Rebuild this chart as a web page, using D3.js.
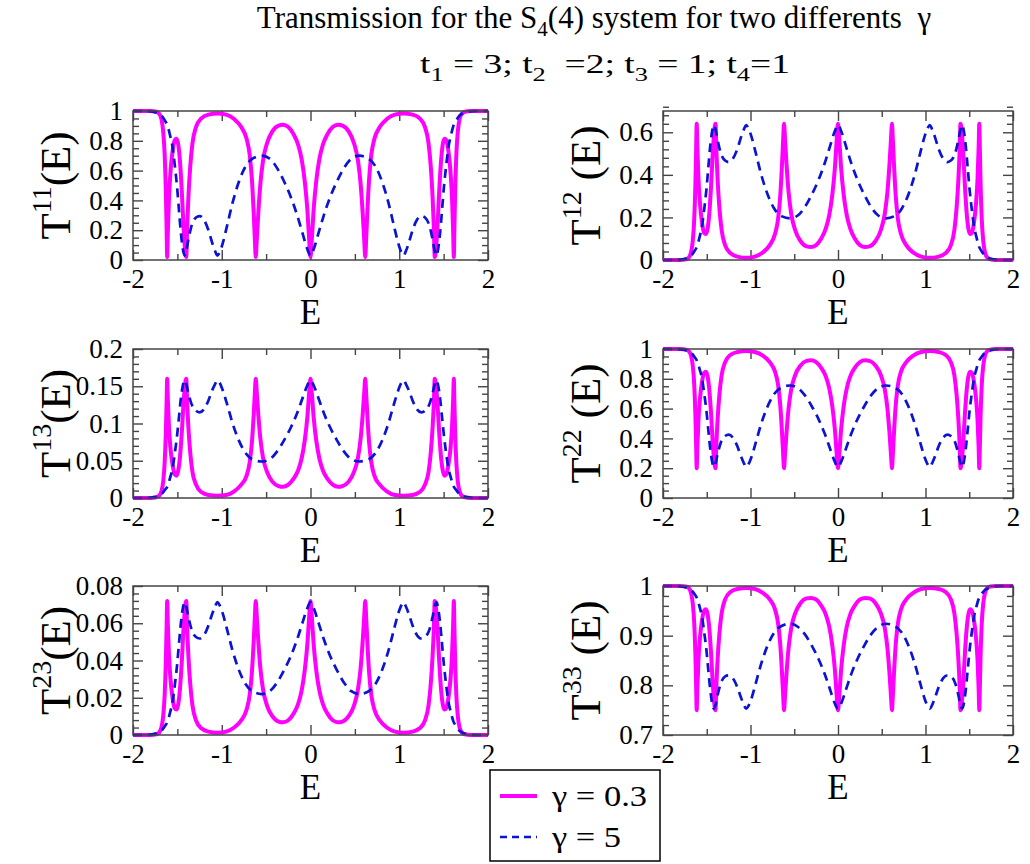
<!DOCTYPE html>
<html><head><meta charset="utf-8">
<script src="https://cdn.jsdelivr.net/npm/d3@7"></script>
<style>
body{margin:0;background:#fff}
svg{display:block}
text{font-family:"Liberation Serif","Times New Roman","DejaVu Serif",serif;white-space:pre}
</style>
</head><body><svg id="c" width="1030" height="864"></svg>
<script>
// ---------------- DATA ----------------
const X_DOMAIN = [-2, 2];
const X_TICKS = [-2, -1, 0, 1, 2];

const E_MAG = [-2,-1.8,-1.74,-1.705,-1.68,-1.66,-1.643,-1.63,-1.621,-1.615,-1.607,-1.595,-1.578,-1.555,-1.53,-1.51,-1.49,-1.47,-1.45,-1.43,-1.4,-1.39,-1.375,-1.355,-1.33,-1.29,-1.23,-1.15,-1.05,-0.95,-0.86,-0.78,-0.72,-0.685,-0.66,-0.64,-0.627,-0.617,-0.605,-0.588,-0.565,-0.535,-0.49,-0.43,-0.36,-0.31,-0.25,-0.19,-0.14,-0.1,-0.065,-0.035,-0.015,0,
0.015,0.035,0.065,0.1,0.14,0.19,0.25,0.31,0.36,0.43,0.49,0.535,0.565,0.588,0.605,0.617,0.627,0.64,0.66,0.685,0.72,0.78,0.86,0.95,1.05,1.15,1.23,1.29,1.33,1.355,1.375,1.39,1.4,1.43,1.45,1.47,1.49,1.51,1.53,1.555,1.578,1.595,1.607,1.615,1.621,1.63,1.643,1.66,1.68,1.705,1.74,1.8,2];

const E_BLUE = [-2,-1.85,-1.78,-1.72,-1.68,-1.64,-1.61,-1.58,-1.555,-1.53,-1.505,-1.48,-1.46,-1.44,-1.42,-1.4,-1.375,-1.34,-1.29,-1.25,-1.2,-1.15,-1.11,-1.075,-1.05,-1.025,-0.99,-0.94,-0.88,-0.81,-0.73,-0.64,-0.55,-0.46,-0.38,-0.3,-0.22,-0.15,-0.09,-0.04,0,
0.04,0.09,0.15,0.22,0.3,0.38,0.46,0.55,0.64,0.73,0.81,0.88,0.94,0.99,1.025,1.05,1.075,1.11,1.15,1.2,1.25,1.29,1.34,1.375,1.4,1.42,1.44,1.46,1.48,1.505,1.53,1.555,1.58,1.61,1.64,1.68,1.72,1.78,1.85,2];

// gamma = 0.3 (magenta)
const T11_MAG = [1,1,0.995,0.982,0.946,0.863,0.706,0.461,0.196,0.02,0.196,0.412,0.588,0.726,0.804,0.814,0.775,0.657,0.461,0.216,0.02,0.216,0.432,0.628,0.784,0.892,0.951,0.976,0.984,0.976,0.946,0.892,0.814,0.706,0.539,0.314,0.138,0.02,0.138,0.314,0.51,0.667,0.784,0.863,0.902,0.907,0.892,0.843,0.775,0.677,0.53,0.334,0.138,0.02,
0.138,0.334,0.53,0.677,0.775,0.843,0.892,0.907,0.902,0.863,0.784,0.667,0.51,0.314,0.138,0.02,0.138,0.314,0.539,0.706,0.814,0.892,0.946,0.976,0.984,0.976,0.951,0.892,0.784,0.628,0.432,0.216,0.02,0.216,0.461,0.657,0.775,0.814,0.804,0.726,0.588,0.412,0.196,0.02,0.196,0.461,0.706,0.863,0.946,0.982,0.995,1,1];
const T12_MAG = [0,0,0.003,0.012,0.035,0.09,0.192,0.352,0.525,0.64,0.525,0.384,0.269,0.179,0.128,0.122,0.147,0.224,0.352,0.512,0.64,0.512,0.371,0.243,0.141,0.07,0.032,0.016,0.01,0.016,0.035,0.07,0.122,0.192,0.301,0.448,0.563,0.64,0.563,0.448,0.32,0.218,0.141,0.09,0.064,0.061,0.07,0.102,0.147,0.211,0.307,0.435,0.563,0.64,
0.563,0.435,0.307,0.211,0.147,0.102,0.07,0.061,0.064,0.09,0.141,0.218,0.32,0.448,0.563,0.64,0.563,0.448,0.301,0.192,0.122,0.07,0.035,0.016,0.01,0.016,0.032,0.07,0.141,0.243,0.371,0.512,0.64,0.512,0.352,0.224,0.147,0.122,0.128,0.179,0.269,0.384,0.525,0.64,0.525,0.352,0.192,0.09,0.035,0.012,0.003,0,0];
const T13_MAG = [0,0,0.001,0.003,0.009,0.022,0.048,0.088,0.131,0.16,0.131,0.096,0.067,0.045,0.032,0.03,0.037,0.056,0.088,0.128,0.16,0.128,0.093,0.061,0.035,0.018,0.008,0.004,0.003,0.004,0.009,0.018,0.03,0.048,0.075,0.112,0.141,0.16,0.141,0.112,0.08,0.054,0.035,0.022,0.016,0.015,0.018,0.026,0.037,0.053,0.077,0.109,0.141,0.16,
0.141,0.109,0.077,0.053,0.037,0.026,0.018,0.015,0.016,0.022,0.035,0.054,0.08,0.112,0.141,0.16,0.141,0.112,0.075,0.048,0.03,0.018,0.009,0.004,0.003,0.004,0.008,0.018,0.035,0.061,0.093,0.128,0.16,0.128,0.088,0.056,0.037,0.03,0.032,0.045,0.067,0.096,0.131,0.16,0.131,0.088,0.048,0.022,0.009,0.003,0.001,0,0];
const T22_MAG = [1,1,0.996,0.986,0.956,0.888,0.76,0.56,0.344,0.2,0.344,0.52,0.664,0.776,0.84,0.848,0.816,0.72,0.56,0.36,0.2,0.36,0.536,0.696,0.824,0.912,0.96,0.98,0.987,0.98,0.956,0.912,0.848,0.76,0.624,0.44,0.296,0.2,0.296,0.44,0.6,0.728,0.824,0.888,0.92,0.924,0.912,0.872,0.816,0.736,0.616,0.456,0.296,0.2,
0.296,0.456,0.616,0.736,0.816,0.872,0.912,0.924,0.92,0.888,0.824,0.728,0.6,0.44,0.296,0.2,0.296,0.44,0.624,0.76,0.848,0.912,0.956,0.98,0.987,0.98,0.96,0.912,0.824,0.696,0.536,0.36,0.2,0.36,0.56,0.72,0.816,0.848,0.84,0.776,0.664,0.52,0.344,0.2,0.344,0.56,0.76,0.888,0.956,0.986,0.996,1,1];
const T23_MAG = [0,0,0.0004,0.0013,0.004,0.0101,0.0216,0.0396,0.059,0.072,0.059,0.0432,0.0302,0.0202,0.0144,0.0137,0.0166,0.0252,0.0396,0.0576,0.072,0.0576,0.0418,0.0274,0.0158,0.0079,0.0036,0.0018,0.0012,0.0018,0.004,0.0079,0.0137,0.0216,0.0338,0.0504,0.0634,0.072,0.0634,0.0504,0.036,0.0245,0.0158,0.0101,0.0072,0.0068,0.0079,0.0115,0.0166,0.0238,0.0346,0.049,0.0634,0.072,
0.0634,0.049,0.0346,0.0238,0.0166,0.0115,0.0079,0.0068,0.0072,0.0101,0.0158,0.0245,0.036,0.0504,0.0634,0.072,0.0634,0.0504,0.0338,0.0216,0.0137,0.0079,0.004,0.0018,0.0012,0.0018,0.0036,0.0079,0.0158,0.0274,0.0418,0.0576,0.072,0.0576,0.0396,0.0252,0.0166,0.0137,0.0144,0.0202,0.0302,0.0432,0.059,0.072,0.059,0.0396,0.0216,0.0101,0.004,0.0013,0.0004,0,0];
const T33_MAG = [1,1,0.999,0.996,0.986,0.965,0.925,0.863,0.795,0.75,0.795,0.85,0.895,0.93,0.95,0.953,0.943,0.913,0.863,0.8,0.75,0.8,0.855,0.905,0.945,0.973,0.988,0.994,0.996,0.994,0.986,0.973,0.953,0.925,0.883,0.825,0.78,0.75,0.78,0.825,0.875,0.915,0.945,0.965,0.975,0.976,0.973,0.96,0.943,0.918,0.88,0.83,0.78,0.75,
0.78,0.83,0.88,0.918,0.943,0.96,0.973,0.976,0.975,0.965,0.945,0.915,0.875,0.825,0.78,0.75,0.78,0.825,0.883,0.925,0.953,0.973,0.986,0.994,0.996,0.994,0.988,0.973,0.945,0.905,0.855,0.8,0.75,0.8,0.863,0.913,0.943,0.953,0.95,0.93,0.895,0.85,0.795,0.75,0.795,0.863,0.925,0.965,0.986,0.996,0.999,1,1];

// gamma = 5 (blue, dashed)
const T11_BLUE = [1,1,0.996,0.985,0.97,0.935,0.9,0.83,0.76,0.64,0.5,0.32,0.18,0.08,0.03,0.06,0.14,0.23,0.285,0.295,0.27,0.2,0.12,0.06,0.03,0.05,0.11,0.23,0.38,0.52,0.63,0.685,0.7,0.68,0.62,0.53,0.42,0.3,0.18,0.08,0.03,
0.08,0.18,0.3,0.42,0.53,0.62,0.68,0.7,0.685,0.63,0.52,0.38,0.23,0.11,0.05,0.03,0.06,0.12,0.2,0.27,0.295,0.285,0.23,0.14,0.06,0.03,0.08,0.18,0.32,0.5,0.64,0.76,0.83,0.9,0.935,0.97,0.985,0.996,1,1];
const T12_BLUE = [0,0,0.003,0.01,0.02,0.042,0.065,0.111,0.157,0.235,0.326,0.444,0.536,0.601,0.634,0.614,0.562,0.503,0.467,0.46,0.477,0.522,0.575,0.614,0.634,0.62,0.581,0.503,0.405,0.314,0.242,0.205,0.196,0.209,0.248,0.307,0.379,0.457,0.536,0.601,0.634,
0.601,0.536,0.457,0.379,0.307,0.248,0.209,0.196,0.205,0.242,0.314,0.405,0.503,0.581,0.62,0.634,0.614,0.575,0.522,0.477,0.46,0.467,0.503,0.562,0.614,0.634,0.601,0.536,0.444,0.326,0.235,0.157,0.111,0.065,0.042,0.02,0.01,0.003,0,0];
const T13_BLUE = [0,0,0.001,0.002,0.005,0.011,0.016,0.028,0.039,0.059,0.082,0.111,0.134,0.15,0.158,0.153,0.14,0.126,0.117,0.115,0.119,0.131,0.144,0.153,0.158,0.155,0.145,0.126,0.101,0.078,0.06,0.051,0.049,0.052,0.062,0.077,0.095,0.114,0.134,0.15,0.158,
0.15,0.134,0.114,0.095,0.077,0.062,0.052,0.049,0.051,0.06,0.078,0.101,0.126,0.145,0.155,0.158,0.153,0.144,0.131,0.119,0.115,0.117,0.126,0.14,0.153,0.158,0.15,0.134,0.111,0.082,0.059,0.039,0.028,0.016,0.011,0.005,0.002,0.001,0,0];
const T22_BLUE = [1,1,0.997,0.988,0.975,0.947,0.918,0.862,0.804,0.706,0.592,0.445,0.33,0.249,0.208,0.233,0.298,0.371,0.416,0.425,0.404,0.347,0.282,0.233,0.208,0.225,0.274,0.371,0.494,0.608,0.698,0.743,0.755,0.738,0.69,0.616,0.526,0.429,0.33,0.249,0.208,
0.249,0.33,0.429,0.526,0.616,0.69,0.738,0.755,0.743,0.698,0.608,0.494,0.371,0.274,0.225,0.208,0.233,0.282,0.347,0.404,0.425,0.416,0.371,0.298,0.233,0.208,0.249,0.33,0.445,0.592,0.706,0.804,0.862,0.918,0.947,0.975,0.988,0.997,1,1];
const T23_BLUE = [0,0,0.0003,0.0011,0.0022,0.0048,0.0073,0.0125,0.0176,0.0264,0.0367,0.05,0.0603,0.0676,0.0713,0.069,0.0632,0.0566,0.0526,0.0518,0.0536,0.0588,0.0647,0.069,0.0713,0.0698,0.0654,0.0566,0.0456,0.0353,0.0272,0.0231,0.022,0.0235,0.0279,0.0346,0.0426,0.0514,0.0603,0.0676,0.0713,
0.0676,0.0603,0.0514,0.0426,0.0346,0.0279,0.0235,0.022,0.0231,0.0272,0.0353,0.0456,0.0566,0.0654,0.0698,0.0713,0.069,0.0647,0.0588,0.0536,0.0518,0.0526,0.0566,0.0632,0.069,0.0713,0.0676,0.0603,0.05,0.0367,0.0264,0.0176,0.0125,0.0073,0.0048,0.0022,0.0011,0.0003,0,0];
const T33_BLUE = [1,1,0.999,0.996,0.992,0.984,0.975,0.957,0.939,0.908,0.873,0.827,0.791,0.765,0.753,0.76,0.781,0.804,0.818,0.82,0.814,0.796,0.776,0.76,0.753,0.758,0.773,0.804,0.842,0.878,0.906,0.92,0.924,0.918,0.903,0.88,0.852,0.822,0.791,0.765,0.753,
0.765,0.791,0.822,0.852,0.88,0.903,0.918,0.924,0.92,0.906,0.878,0.842,0.804,0.773,0.758,0.753,0.76,0.776,0.796,0.814,0.82,0.818,0.804,0.781,0.76,0.753,0.765,0.791,0.827,0.873,0.908,0.939,0.957,0.975,0.984,0.992,0.996,0.999,1,1];

const Y_TICKS_11 = [0, 0.2, 0.4, 0.6, 0.8, 1];
const Y_TICKS_12 = [0, 0.2, 0.4, 0.6];
const Y_TICKS_13 = [0, 0.05, 0.1, 0.15, 0.2];
const Y_TICKS_22 = [0, 0.2, 0.4, 0.6, 0.8, 1];
const Y_TICKS_23 = [0, 0.02, 0.04, 0.06, 0.08];
const Y_TICKS_33 = [0.7, 0.8, 0.9, 1];

const LEGEND_LABELS = ["\u03b3 = 0.3", "\u03b3 = 5"];

// ---------------- LAYOUT ----------------
const FONT = '"Liberation Serif","Times New Roman","DejaVu Serif",serif';
const MAG = "#ff00ff", BLUE = "#0a14d2", AXC = "#444";
const COLS = [{x0:133, x1:488, lab:70}, {x0:663, x1:1013, lab:600}];
const ROWS = [{y0:111, y1:260}, {y0:349, y1:498}, {y0:586, y1:735}];

const panels = [
  {col:0,row:0,sup:"11",sp:"",  mag:T11_MAG,blue:T11_BLUE,dom:[0,1],   ticks:Y_TICKS_11,minor:0.05},
  {col:1,row:0,sup:"12",sp:" ", mag:T12_MAG,blue:T12_BLUE,dom:[0,0.7], ticks:Y_TICKS_12,minor:0.04},
  {col:0,row:1,sup:"13",sp:"",  mag:T13_MAG,blue:T13_BLUE,dom:[0,0.2], ticks:Y_TICKS_13,minor:0.01},
  {col:1,row:1,sup:"22",sp:" ", mag:T22_MAG,blue:T22_BLUE,dom:[0,1],   ticks:Y_TICKS_22,minor:0.05},
  {col:0,row:2,sup:"23",sp:"",  mag:T23_MAG,blue:T23_BLUE,dom:[0,0.08],ticks:Y_TICKS_23,minor:0.004},
  {col:1,row:2,sup:"33",sp:" ", mag:T33_MAG,blue:T33_BLUE,dom:[0.7,1], ticks:Y_TICKS_33,minor:0.02}
];

const svg = d3.select("#c");

function styleAxis(g, size){
  g.attr("font-family", null).attr("font-size", null);
  g.select(".domain").remove();
  g.selectAll(".tick line").attr("stroke", AXC).attr("stroke-width", 1.4);
  g.selectAll(".tick text").attr("fill", "#000").style("font-family", FONT).style("font-size", size + "px");
}

panels.forEach(p => {
  const c = COLS[p.col], r = ROWS[p.row];
  const x = d3.scaleLinear().domain(X_DOMAIN).range([c.x0, c.x1]);
  const y = d3.scaleLinear().domain(p.dom).range([r.y1, r.y0]);
  const g = svg.append("g");

  const xMinor = d3.range(X_DOMAIN[0], X_DOMAIN[1] + 1e-9, 0.5).filter(v => Math.abs(v - Math.round(v)) > 1e-6);
  const nMinor = Math.round((p.dom[1] - p.dom[0]) / p.minor);
  const yMinor = d3.range(0, nMinor + 1).map(i => p.dom[0] + i * p.minor)
      .filter(v => !p.ticks.some(t => Math.abs(t - v) < 1e-9));

  g.append("g").attr("transform", `translate(0,${r.y1})`)
    .call(d3.axisBottom(x).tickValues(X_TICKS).tickSize(-10).tickPadding(9).tickFormat(d => String(d)))
    .call(a => styleAxis(a, 27));
  g.append("g").attr("transform", `translate(0,${r.y1})`)
    .call(d3.axisBottom(x).tickValues(xMinor).tickSize(-6).tickFormat(""))
    .call(a => styleAxis(a, 10));
  g.append("g").attr("transform", `translate(0,${r.y0})`)
    .call(d3.axisTop(x).tickValues(X_TICKS).tickSize(-10).tickFormat(""))
    .call(a => styleAxis(a, 10));
  g.append("g").attr("transform", `translate(0,${r.y0})`)
    .call(d3.axisTop(x).tickValues(xMinor).tickSize(-6).tickFormat(""))
    .call(a => styleAxis(a, 10));

  g.append("g").attr("transform", `translate(${c.x0},0)`)
    .call(d3.axisLeft(y).tickValues(p.ticks).tickSize(-10).tickPadding(10).tickFormat(d => String(d)))
    .call(a => styleAxis(a, 27));
  g.append("g").attr("transform", `translate(${c.x0},0)`)
    .call(d3.axisLeft(y).tickValues(yMinor).tickSize(-6).tickFormat(""))
    .call(a => styleAxis(a, 10));
  g.append("g").attr("transform", `translate(${c.x1},0)`)
    .call(d3.axisRight(y).tickValues(p.ticks).tickSize(-10).tickFormat(""))
    .call(a => styleAxis(a, 10));
  g.append("g").attr("transform", `translate(${c.x1},0)`)
    .call(d3.axisRight(y).tickValues(yMinor).tickSize(-6).tickFormat(""))
    .call(a => styleAxis(a, 10));

  const line = (ys) => d3.line().curve(d3.curveMonotoneX).x(d => x(d)).y((d, i) => y(ys[i]));
  g.append("path").datum(E_MAG).attr("d", line(p.mag))
    .attr("fill", "none").attr("stroke", MAG).attr("stroke-width", 4).attr("stroke-linejoin", "round");
  g.append("path").datum(E_BLUE).attr("d", line(p.blue))
    .attr("fill", "none").attr("stroke", BLUE).attr("stroke-width", 2.7).attr("stroke-dasharray", "9,6");

  g.append("rect").attr("x", c.x0).attr("y", r.y0).attr("width", c.x1 - c.x0).attr("height", r.y1 - r.y0)
    .attr("fill", "none").attr("stroke", AXC).attr("stroke-width", 1.5);

  g.append("text").attr("x", (c.x0 + c.x1) / 2).attr("y", r.y1 + 64).attr("text-anchor", "middle")
    .style("font-family", FONT).style("font-size", "35px").text("E");

  const yl = g.append("text").attr("transform", `translate(${c.lab},${(r.y0 + r.y1) / 2}) rotate(-90)`)
    .attr("text-anchor", "middle").style("font-family", FONT).style("font-size", "43px");
  yl.append("tspan").text("T");
  yl.append("tspan").style("font-size", "28px").attr("dy", -19).text(p.sup);
  yl.append("tspan").attr("dy", 19).text(p.sp + "(E)");
});

// title
const title = svg.append("text").attr("x", 594).attr("y", 28).attr("text-anchor", "middle")
  .style("font-family", FONT).style("font-size", "31px");
title.append("tspan").text("Transmission for the S");
title.append("tspan").style("font-size", "21px").attr("dy", 8).text("4");
title.append("tspan").attr("dy", -8).text("(4) system for two differents  \u03b3");

// subtitle (glyphs stretched horizontally like the reference)
const sub = svg.append("text").attr("x", 420).attr("y", 73)
  .style("font-family", FONT).style("font-size", "27px")
  .attr("textLength", 370).attr("lengthAdjust", "spacingAndGlyphs");
[["t",0],["1",1],[" = 3; t",0],["2",1],["  =2; t",0],["3",1],[" = 1; t",0],["4",1],["=1",0]].reduce((prev, [s, isSub]) => {
  const dy = isSub === prev ? 0 : (isSub ? 8 : -8);
  sub.append("tspan").style("font-size", isSub ? "19px" : "27px").attr("dy", dy).text(s);
  return isSub;
}, 0);

// legend
const lg = svg.append("g");
lg.append("rect").attr("x", 490).attr("y", 770).attr("width", 170).attr("height", 91)
  .attr("fill", "#fff").attr("stroke", "#000").attr("stroke-width", 1.5);
const legendStyles = [{c:MAG, w:4, dash:null, len:95}, {c:BLUE, w:2.7, dash:"7,5", len:69}];
LEGEND_LABELS.forEach((lab, i) => {
  const yy = 796 + i * 41;
  const s = legendStyles[i];
  const ln = lg.append("line").attr("x1", 500).attr("x2", 537).attr("y1", yy).attr("y2", yy)
    .attr("stroke", s.c).attr("stroke-width", s.w);
  if (s.dash) ln.attr("stroke-dasharray", s.dash);
  lg.append("text").attr("x", 552).attr("y", yy + 10)
    .style("font-family", FONT).style("font-size", "30px")
    .attr("textLength", s.len).attr("lengthAdjust", "spacingAndGlyphs").text(lab);
});
</script>
</body></html>
